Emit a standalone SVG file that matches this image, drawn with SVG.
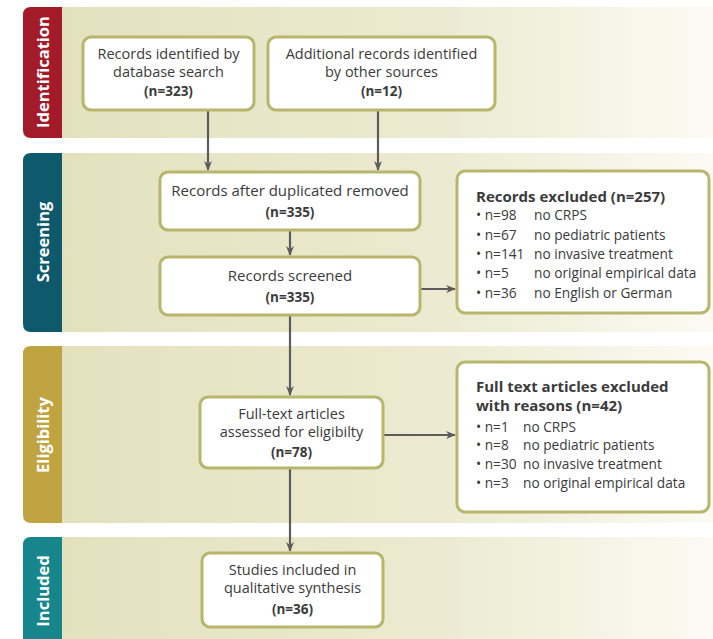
<svg xmlns="http://www.w3.org/2000/svg" width="713" height="639" viewBox="0 0 713 639">
<defs>
<linearGradient id="bandg" x1="0" y1="0" x2="1" y2="0">
<stop offset="0" stop-color="#e3e1bd"/>
<stop offset="0.6" stop-color="#ecebd2"/>
<stop offset="1" stop-color="#fbfbf4"/>
</linearGradient>
<marker id="ah" viewBox="0 0 10 10" refX="9" refY="5" markerWidth="10" markerHeight="10" markerUnits="userSpaceOnUse" orient="auto">
<path d="M0,1 L10,5 L0,9 L3,5 Z" fill="#5c5c5c"/>
</marker>
</defs>
<style>
.band{fill:url(#bandg);}
.box{fill:#ffffff;stroke:#b8b66c;stroke-width:3;}
.t{font-family:"Open Sans","DejaVu Sans",sans-serif;font-size:15px;fill:#3b3b3b;}
.t2{font-family:"Open Sans","DejaVu Sans",sans-serif;font-size:14.5px;fill:#3b3b3b;}
.s{font-family:"Open Sans","DejaVu Sans",sans-serif;font-size:13.7px;fill:#3b3b3b;}
.c{text-anchor:middle;}
.n{font-family:"Open Sans","DejaVu Sans",sans-serif;font-size:13.5px;font-weight:bold;fill:#3b3b3b;text-anchor:middle;}
.h{font-family:"Open Sans","DejaVu Sans",sans-serif;font-size:15px;font-weight:bold;fill:#3b3b3b;}
.tab{font-family:"Open Sans","DejaVu Sans",sans-serif;font-size:16.5px;font-weight:bold;fill:#ffffff;text-anchor:middle;}
.conn{stroke:#5c5c5c;stroke-width:2.2;fill:none;marker-end:url(#ah);}
</style>
<rect width="713" height="639" fill="#ffffff"/>

<g id="band-identification">
<rect class="band" x="60" y="7" width="653" height="131"/>
<path d="M62,7 H31 Q23,7 23,15 V130 Q23,138 31,138 H62 Z" fill="#a31b29"/>
<text class="tab" transform="translate(49,72) rotate(-90)">Identification</text>
</g>
<g id="band-screening">
<rect class="band" x="60" y="153" width="653" height="179"/>
<path d="M62,153 H31 Q23,153 23,161 V324 Q23,332 31,332 H62 Z" fill="#0e5a6c"/>
<text class="tab" transform="translate(49,242) rotate(-90)">Screening</text>
</g>
<g id="band-eligibility">
<rect class="band" x="60" y="346" width="653" height="177"/>
<path d="M62,346 H31 Q23,346 23,354 V515 Q23,523 31,523 H62 Z" fill="#c1a442"/>
<text class="tab" transform="translate(49,435) rotate(-90)">Eligibility</text>
</g>
<g id="band-included">
<rect class="band" x="60" y="537" width="653" height="102"/>
<path d="M62,537 H31 Q23,537 23,545 V639 H62 Z" fill="#17868c"/>
<text class="tab" transform="translate(49,591) rotate(-90)">Included</text>
</g>

<g id="connectors">
<line class="conn" x1="208" y1="111" x2="208" y2="170"/>
<line class="conn" x1="378" y1="111" x2="378" y2="170"/>
<line class="conn" x1="290" y1="231" x2="290" y2="255"/>
<line class="conn" x1="421" y1="289" x2="455" y2="289"/>
<line class="conn" x1="290" y1="316" x2="290" y2="395"/>
<line class="conn" x1="384" y1="435" x2="455" y2="435"/>
<line class="conn" x1="290" y1="469" x2="290" y2="551"/>
</g>

<g id="node-db">
<rect class="box" x="83" y="37" width="171" height="73" rx="8"/>
<text class="t2 c" x="168.5" y="59">Records identified by</text>
<text class="t2 c" x="168.5" y="77">database search</text>
<text class="n" x="168.5" y="96">(n=323)</text>
</g>
<g id="node-other">
<rect class="box" x="268" y="37" width="227" height="73" rx="8"/>
<text class="t2 c" x="381.5" y="59">Additional records identified</text>
<text class="t2 c" x="381.5" y="77">by other sources</text>
<text class="n" x="381.5" y="96">(n=12)</text>
</g>
<g id="node-dup">
<rect class="box" x="160" y="172" width="260" height="58" rx="8"/>
<text class="t c" x="290" y="196">Records after duplicated removed</text>
<text class="n" x="290" y="217">(n=335)</text>
</g>
<g id="node-screened">
<rect class="box" x="160" y="257" width="260" height="58" rx="8"/>
<text class="t c" x="290" y="281">Records screened</text>
<text class="n" x="290" y="302">(n=335)</text>
</g>
<g id="node-excluded">
<rect class="box" x="457" y="171" width="252" height="142" rx="8"/>
<text class="h" x="476" y="202">Records excluded (n=257)</text>
<text class="s" x="476" y="220">• n=98</text><text class="s" x="534" y="220">no CRPS</text>
<text class="s" x="476" y="240">• n=67</text><text class="s" x="534" y="240">no pediatric patients</text>
<text class="s" x="476" y="259">• n=141</text><text class="s" x="534" y="259">no invasive treatment</text>
<text class="s" x="476" y="278">• n=5</text><text class="s" x="534" y="278">no original empirical data</text>
<text class="s" x="476" y="298">• n=36</text><text class="s" x="534" y="298">no English or German</text>
</g>
<g id="node-fulltext">
<rect class="box" x="200" y="397" width="183" height="71" rx="8"/>
<text class="t2 c" x="291.5" y="419">Full-text articles</text>
<text class="t2 c" x="291.5" y="437">assessed for eligibilty</text>
<text class="n" x="291.5" y="457">(n=78)</text>
</g>
<g id="node-ftexcluded">
<rect class="box" x="457" y="362" width="252" height="150" rx="8"/>
<text class="h" x="476" y="392">Full text articles excluded</text>
<text class="h" x="476" y="411">with reasons (n=42)</text>
<text class="s" x="476" y="432">• n=1</text><text class="s" x="523" y="432">no CRPS</text>
<text class="s" x="476" y="450">• n=8</text><text class="s" x="523" y="450">no pediatric patients</text>
<text class="s" x="476" y="469">• n=30</text><text class="s" x="523" y="469">no invasive treatment</text>
<text class="s" x="476" y="488">• n=3</text><text class="s" x="523" y="488">no original empirical data</text>
</g>
<g id="node-included">
<rect class="box" x="202" y="553" width="181" height="74" rx="8"/>
<text class="t2 c" x="292.5" y="575">Studies included in</text>
<text class="t2 c" x="292.5" y="593">qualitative synthesis</text>
<text class="n" x="292.5" y="614">(n=36)</text>
</g>
</svg>
